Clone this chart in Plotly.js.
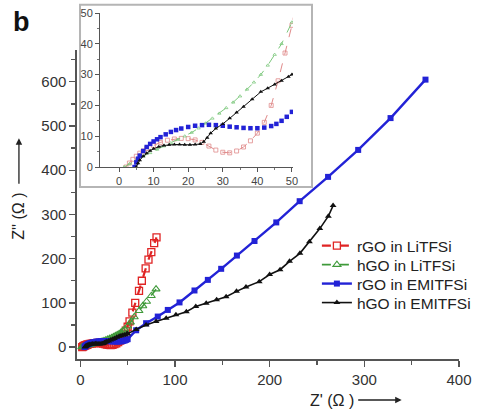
<!DOCTYPE html>
<html>
<head>
<meta charset="utf-8">
<script src="https://cdn.plot.ly/plotly-3.0.1.min.js"></script>
<style>html,body{margin:0;padding:0;background:#fff;}#chart{width:481px;height:414px;}</style>
</head>
<body>
<div id="chart"></div>
<script>
// Series names
const seriesNames = ["rGO in LiTFSi", "hGO in LiTFSi", "rGO in EMITFSi", "hGO in EMITFSi"];

// rGO in LiTFSi (Z', Z'')
const rgoLiX = [2, 3, 4, 5, 6, 7, 8, 10, 12, 14, 16, 18, 20, 22, 24, 26, 28, 30, 32, 34, 36, 38, 40, 42, 44, 46, 48, 50, 52, 55, 58, 62, 65, 69, 72, 75, 78, 80.5];
const rgoLiY = [0, 1.3, 2.5, 3.5, 4.5, 5.2, 6, 7, 8, 8.7, 9.1, 9.3, 9.2, 8.8, 8, 6.8, 5.5, 4.8, 4.6, 5.2, 6.5, 8.5, 11, 14.5, 20, 28, 37, 46, 58, 78, 100, 127, 150, 178, 198, 215, 235, 248];

// hGO in LiTFSi
const hgoLiX = [1.5, 3, 5, 7, 9, 11, 13, 15, 17, 19, 21, 23, 25, 27, 29, 31, 33, 35, 37, 39, 41, 43, 45, 47, 50, 53, 57, 62, 66, 70, 75, 80];
const hgoLiY = [0, 1, 2.3, 3.5, 4.6, 5.7, 6.8, 7.8, 8.9, 10, 11.2, 12.6, 14.2, 15.8, 17.4, 19.2, 21, 23, 25.2, 27.5, 30, 33, 36.5, 40, 47, 56, 68, 82, 93, 103, 116, 131];

// rGO in EMITFSi
const rgoEmX = [4.5, 5, 5.5, 6, 7, 8, 9, 10, 11, 12, 13.5, 15, 16.5, 18, 20, 22, 24, 26, 28, 30, 32, 34, 36, 38, 40, 42, 44, 45.5, 47, 48.5, 50, 59, 69.5, 81.8, 92.4, 104.8, 120.6, 134.7, 148.8, 165.4, 184, 207, 231.7, 261.7, 293.5, 327.7, 364.6];
const rgoEmY = [0, 1.5, 2.7, 3.7, 5.2, 6.5, 7.5, 8.3, 9, 9.7, 10.6, 11.4, 12, 12.5, 13, 13.4, 13.6, 13.7, 13.6, 13.4, 13.1, 12.9, 12.7, 12.6, 12.6, 12.8, 13.3, 14, 15, 16.3, 17.9, 38, 54, 69, 84, 101, 128, 152, 177, 207, 240, 282, 330, 385, 446, 518, 605];

// hGO in EMITFSi
const hgoEmX = [5, 5.5, 6, 7, 8, 9, 10, 11.5, 13, 14.5, 16, 17.5, 19, 20.5, 22, 23.5, 24.5, 25.5, 26.5, 28, 30, 32, 34, 36, 38.5, 41, 43, 45, 47, 49, 50, 59, 69.5, 80, 90.7, 101, 112, 122, 133, 144, 154, 165, 175, 189, 200, 211, 221, 232, 242, 253, 262, 267];
const hgoEmY = [0, 1.2, 2.2, 3.5, 4.5, 5.3, 5.9, 6.6, 7, 7.2, 7.3, 7.3, 7.2, 7.2, 7.3, 7.5, 8.2, 9.5, 11, 12.5, 14, 15.8, 17.7, 19.6, 22, 24.4, 25.6, 26.8, 28, 29.3, 30, 40, 50, 57.6, 65, 73, 80, 92, 99, 107, 114, 126, 136, 148, 164, 175, 194, 212, 238, 268, 296, 320];

// Axis ticks
const mainXTicks = [0, 100, 200, 300, 400];
const mainYTicks = [0, 100, 200, 300, 400, 500, 600];
const insetXTicks = [0, 10, 20, 30, 40, 50];
const insetYTicks = [0, 10, 20, 30, 40, 50];

const FONT = "Liberation Sans, Arial, sans-serif";
const RED = "#e02424", GREEN = "#3f9a3a", BLUE = "#2222d6", BLACK = "#111111";

const traces = [
  // main
  {x: rgoLiX, y: rgoLiY, name: seriesNames[0], legend: "legend", type: "scatter", mode: "lines+markers", xaxis: "x", yaxis: "y",
   line: {color: RED, width: 2.2, dash: "dash"}, marker: {symbol: "square-open", size: 7, color: RED, line: {width: 1.3}}},
  {x: hgoLiX, y: hgoLiY, name: seriesNames[1], legend: "legend2", type: "scatter", mode: "lines+markers", xaxis: "x", yaxis: "y",
   line: {color: GREEN, width: 1.6, dash: "dash"}, marker: {symbol: "triangle-up-open", size: 7, color: GREEN, line: {width: 1.1}}},
  {x: rgoEmX, y: rgoEmY, name: seriesNames[2], legend: "legend3", type: "scatter", mode: "lines+markers", xaxis: "x", yaxis: "y",
   line: {color: BLUE, width: 2.4}, marker: {symbol: "square", size: 6, color: BLUE}},
  {x: hgoEmX, y: hgoEmY, name: seriesNames[3], legend: "legend4", type: "scatter", mode: "lines+markers", xaxis: "x", yaxis: "y",
   line: {color: BLACK, width: 1.6}, marker: {symbol: "triangle-up", size: 6, color: BLACK}},
  // inset
  {x: rgoLiX, y: rgoLiY, name: seriesNames[0], showlegend: false, type: "scatter", mode: "lines+markers", xaxis: "x2", yaxis: "y2",
   line: {color: "#e08a8a", width: 1, dash: "dash"}, marker: {symbol: "square-open", size: 4, color: "#e08a8a", line: {width: 0.8}}},
  {x: hgoLiX, y: hgoLiY, name: seriesNames[1], showlegend: false, type: "scatter", mode: "lines+markers", xaxis: "x2", yaxis: "y2",
   line: {color: "#7cc87c", width: 1, dash: "dash"}, marker: {symbol: "triangle-up-open", size: 3, color: "#7cc87c", line: {width: 0.8}}},
  {x: rgoEmX, y: rgoEmY, name: seriesNames[2], showlegend: false, type: "scatter", mode: "markers", xaxis: "x2", yaxis: "y2",
   marker: {symbol: "square", size: 4.5, color: BLUE}},
  {x: hgoEmX, y: hgoEmY, name: seriesNames[3], showlegend: false, type: "scatter", mode: "lines+markers", xaxis: "x2", yaxis: "y2",
   line: {color: BLACK, width: 1}, marker: {symbol: "triangle-up", size: 4, color: BLACK}}
];

const axisCommon = {
  showline: true, linecolor: "#555", zeroline: false, showgrid: false,
  ticks: "outside", tickcolor: "#555"
};

function legendAt(py) {
  return {x: 0.628, y: (359 - py) / 355, xanchor: "left", yanchor: "middle", bgcolor: "rgba(0,0,0,0)",
          font: {size: 15.5, color: "#222", family: FONT}, borderwidth: 0};
}

const layout = {
  width: 481, height: 414,
  margin: {l: 77, r: 22, t: 4, b: 55},
  paper_bgcolor: "#ffffff", plot_bgcolor: "rgba(0,0,0,0)",
  font: {family: FONT, color: "#333"},
  showlegend: true,
  legend: legendAt(246),
  legend2: legendAt(265),
  legend3: legendAt(284),
  legend4: legendAt(303),
  xaxis: Object.assign({}, axisCommon, {domain: [0, 1], anchor: "y", range: [-3.5, 400], tickvals: mainXTicks,
    linewidth: 1.6, ticklen: 6, tickwidth: 1.3, tickfont: {size: 15, color: "#333"},
    minor: {tickvals: [50, 150, 250, 350], ticks: "outside", ticklen: 4, tickcolor: "#555"}}),
  yaxis: Object.assign({}, axisCommon, {domain: [0, 0.8704], anchor: "x", range: [-27, 672], tickvals: mainYTicks,
    linewidth: 1.6, ticklen: 6, tickwidth: 1.3, tickfont: {size: 15, color: "#333"},
    minor: {tickvals: [50, 150, 250, 350, 450, 550, 650], ticks: "outside", ticklen: 4, tickcolor: "#555"}}),
  xaxis2: Object.assign({}, axisCommon, {domain: [0.0602, 0.5654], anchor: "y2", range: [-5.5, 50.3], tickvals: insetXTicks,
    linewidth: 1, ticklen: 4, tickwidth: 1, tickfont: {size: 11, color: "#444"},
    minor: {tickvals: [5, 15, 25, 35, 45], ticks: "outside", ticklen: 2, tickcolor: "#777"}}),
  yaxis2: Object.assign({}, axisCommon, {domain: [0.5408, 0.9746], anchor: "x2", range: [0, 50], tickvals: insetYTicks,
    linewidth: 1, ticklen: 4, tickwidth: 1, tickfont: {size: 11, color: "#444"},
    minor: {tickvals: [5, 15, 25, 35, 45], ticks: "outside", ticklen: 2, tickcolor: "#777"}}),
  shapes: [
    {type: "rect", xref: "paper", yref: "paper", x0: 0.0079, x1: 0.6152, y0: 0.4845, y1: 0.998,
     line: {color: "#b5b5b5", width: 2}, fillcolor: "#ffffff", layer: "below"}
  ],
  annotations: [
    {text: "<b>b</b>", xref: "paper", yref: "paper", x: -0.144, y: 0.949, showarrow: false,
     font: {size: 27, color: "#111", family: FONT}, xanchor: "center", yanchor: "middle"},
    {text: "Z'' (Ω )", xref: "paper", yref: "paper", x: -0.152, y: 0.403, showarrow: false, textangle: -90,
     font: {size: 16, color: "#222", family: FONT}, xanchor: "center", yanchor: "middle"},
    {text: "", xref: "paper", yref: "paper", x: -0.152, y: 0.622, showarrow: true, ax: 0, ay: 47,
     arrowhead: 2, arrowsize: 1, arrowwidth: 1.3, arrowcolor: "#222"},
    {text: "Z' (Ω )", xref: "paper", yref: "paper", x: 0.605, y: -0.1155, showarrow: false,
     font: {size: 16, color: "#222", family: FONT}, xanchor: "left", yanchor: "middle"},
    {text: "", xref: "paper", yref: "paper", x: 0.85, y: -0.1155, showarrow: true, ax: -45, ay: 0,
     arrowhead: 2, arrowsize: 1, arrowwidth: 1.3, arrowcolor: "#222"}
  ]
};

Plotly.newPlot("chart", traces, layout, {displayModeBar: false, staticPlot: true});
</script>
</body>
</html>
